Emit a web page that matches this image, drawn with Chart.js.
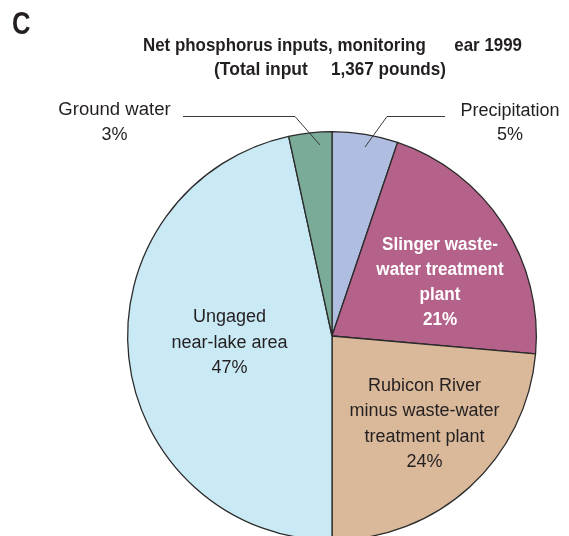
<!DOCTYPE html>
<html>
<head>
<meta charset="utf-8">
<script src="https://cdn.jsdelivr.net/npm/chart.js@4.4.0/dist/chart.umd.min.js"></script>
<style>
  html, body { margin: 0; padding: 0; background: #fff; overflow: hidden; }
  #wrap { width: 569px; height: 536px; overflow: hidden; position: relative; }
</style>
</head>
<body>
<div id="wrap"><canvas id="pie" width="569" height="560"></canvas></div>
<script>
// Net phosphorus inputs, monitoring year 1999 (percent of total)
const categories = ['Precipitation', 'Slinger waste-water treatment plant', 'Rubicon River minus waste-water treatment plant', 'Ungaged near-lake area', 'Ground water'];
const shares = [5.2, 21.2, 23.6, 46.6, 3.4];
const sliceColors = ['#aebde0', '#b5628a', '#d9b99a', '#c9e9f5', '#7aab98'];

const FONT = "'Liberation Sans', Arial, sans-serif";
const INK = '#231f20';

// draw text squeezed horizontally (the original uses a condensed face)
function squeezed(ctx, text, x, y, font, sx, align, color) {
  ctx.save();
  ctx.font = font;
  ctx.fillStyle = color || INK;
  ctx.textBaseline = 'alphabetic';
  const w = ctx.measureText(text).width * sx;
  let left = x;
  if (align === 'center') left = x - w / 2;
  if (align === 'right') left = x - w;
  ctx.translate(left, y);
  ctx.scale(sx, 1);
  ctx.textAlign = 'left';
  ctx.fillText(text, 0, 0);
  ctx.restore();
}

function pct(i) { return Math.round(shares[i]) + '%'; }

const labelPlugin = {
  id: 'labels',
  afterDraw(chart) {
    const ctx = chart.ctx;
    const bold = n => 'bold ' + n + 'px ' + FONT;
    const reg = n => n + 'px ' + FONT;

    // panel letter and title
    squeezed(ctx, 'C', 12, 34, bold(32), 0.8, 'left');
    squeezed(ctx, 'Net phosphorus inputs, monitoring', 143, 51, bold(19), 0.89, 'left');
    squeezed(ctx, 'ear 1999', 522, 51, bold(19), 0.89, 'right');
    squeezed(ctx, '(Total input', 214, 75, bold(19), 0.92, 'left');
    squeezed(ctx, '1,367 pounds)', 446, 75, bold(19), 0.9, 'right');

    // leader lines
    ctx.save();
    ctx.strokeStyle = '#3a3a3a';
    ctx.lineWidth = 1;
    ctx.beginPath();
    ctx.moveTo(183, 116.5); ctx.lineTo(295, 116.5); ctx.lineTo(320, 145);
    ctx.moveTo(445, 116.5); ctx.lineTo(387, 116.5); ctx.lineTo(365, 147);
    ctx.stroke();
    ctx.restore();

    // outside labels
    squeezed(ctx, 'Ground water', 114.5, 115, reg(18), 1.03, 'center');
    squeezed(ctx, pct(4), 114.5, 140, reg(18), 1, 'center');
    squeezed(ctx, 'Precipitation', 510, 116, reg(18), 1, 'center');
    squeezed(ctx, pct(0), 510, 140, reg(18), 1, 'center');

    // inside labels
    const slinger = ['Slinger waste-', 'water treatment', 'plant', pct(1)];
    slinger.forEach((t, k) => squeezed(ctx, t, 440, 250 + k * 25, bold(18), 0.95, 'center', '#ffffff'));
    const rubicon = ['Rubicon River', 'minus waste-water', 'treatment plant', pct(2)];
    rubicon.forEach((t, k) => squeezed(ctx, t, 424.5, 391 + k * 25.3, reg(18), 1, 'center'));
    const ungaged = ['Ungaged', 'near-lake area', pct(3)];
    ungaged.forEach((t, k) => squeezed(ctx, t, 229.5, 322 + k * 25.5, reg(18), 1, 'center'));
  }
};

new Chart(document.getElementById('pie'), {
  type: 'pie',
  data: {
    labels: categories,
    datasets: [{
      data: shares,
      backgroundColor: sliceColors,
      borderColor: '#2b2b2b',
      borderWidth: 1.3
    }]
  },
  options: {
    responsive: false,
    animation: false,
    rotation: 0,
    layout: { padding: { left: 127, right: 32, top: 131, bottom: 19 } },
    plugins: {
      legend: { display: false },
      tooltip: { enabled: false }
    }
  },
  plugins: [labelPlugin]
});
</script>
</body>
</html>
